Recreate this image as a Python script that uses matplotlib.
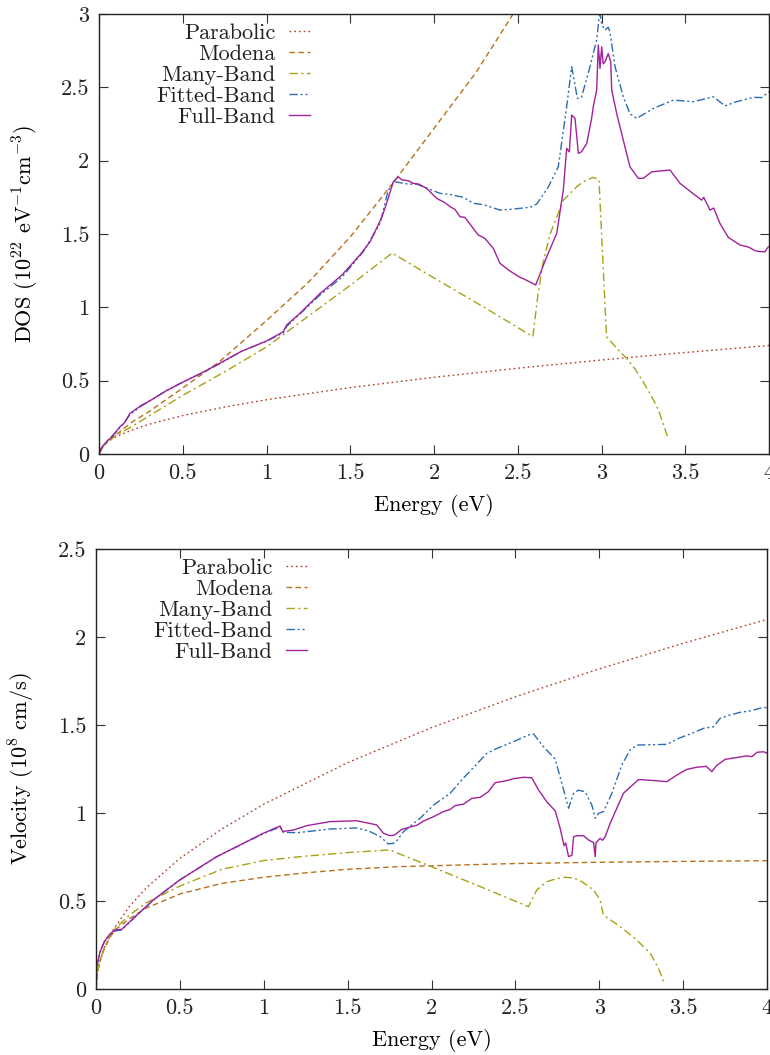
"""
DOS si viteza de grup vs. energie — comparatie intre modele de benzi
(Parabolic, Modena, Many-Band, Fitted-Band, Full-Band).
"""

import matplotlib
matplotlib.use("Agg")
import matplotlib.pyplot as plt
from matplotlib.ticker import FuncFormatter, MultipleLocator

# ---------------------------------------------------------------- date
labels = ["Parabolic", "Modena", "Many-Band", "Fitted-Band", "Full-Band"]

# grila comuna pentru curbele netede (parabolic)
E_smooth = [0, 0.01, 0.02, 0.05, 0.1, 0.2, 0.3, 0.5, 0.75, 1.0, 1.5, 2.0, 2.5, 3.0, 3.5, 4.0]

# --- DOS (10^22 eV^-1 cm^-3)
dos_par = [0, 0.037, 0.052, 0.083, 0.117, 0.165, 0.203, 0.262, 0.32, 0.37,
           0.453, 0.523, 0.585, 0.641, 0.692, 0.74]

E_mod_dos = [0, 0.02, 0.05, 0.1, 0.2, 0.3, 0.5, 0.72, 1.0, 1.25, 1.5, 1.75, 2.0, 2.25, 2.5]
dos_mod = [0, 0.05, 0.085, 0.13, 0.22, 0.29, 0.45, 0.63, 0.91, 1.17, 1.48, 1.84, 2.22, 2.6, 3.05]

E_many_dos = [0, 0.02, 0.05, 0.1, 0.2, 0.3, 0.5, 0.75, 1.0, 1.25, 1.5, 1.75, 2.0, 2.3,
              2.59, 2.62, 2.65, 2.693, 2.772, 2.85, 2.891, 2.95, 2.985, 3.03, 3.1, 3.15,
              3.2, 3.25, 3.3, 3.34, 3.4]
dos_many = [0, 0.04, 0.08, 0.125, 0.19, 0.26, 0.40, 0.56, 0.73, 0.94, 1.15, 1.37, 1.20, 1.00,
            0.80, 1.08, 1.30, 1.50, 1.73, 1.82, 1.856, 1.886, 1.87, 0.80, 0.71, 0.652,
            0.58, 0.49, 0.39, 0.30, 0.10]

E_fit_dos = [0, 0.02, 0.05, 0.08, 0.125, 0.15, 0.185, 0.25, 0.3, 0.4, 0.5, 0.6, 0.72, 0.85,
             1.0, 1.1, 1.12, 1.2, 1.32, 1.38, 1.45, 1.578, 1.678, 1.727, 1.767, 1.797,
             1.847, 1.897, 1.976, 2.036, 2.096, 2.175, 2.235, 2.294, 2.394, 2.454, 2.573,
             2.613, 2.683, 2.742, 2.792, 2.822, 2.856, 2.88, 2.931, 2.971, 2.99, 3.001,
             3.02, 3.04, 3.05, 3.081, 3.13, 3.17, 3.21, 3.309, 3.429, 3.548, 3.668, 3.737,
             3.80, 3.906, 3.956, 4.0]
dos_fit = [0, 0.05, 0.09, 0.125, 0.18, 0.21, 0.27, 0.325, 0.36, 0.43, 0.49, 0.545, 0.615,
           0.70, 0.77, 0.825, 0.87, 0.955, 1.085, 1.14, 1.205, 1.38, 1.572, 1.80, 1.856,
           1.85, 1.84, 1.84, 1.804, 1.777, 1.77, 1.75, 1.709, 1.70, 1.663, 1.668, 1.682,
           1.704, 1.822, 1.958, 2.368, 2.64, 2.424, 2.43, 2.64, 2.822, 3.02, 2.93, 2.89,
           2.91, 2.88, 2.64, 2.436, 2.32, 2.288, 2.356, 2.413, 2.402, 2.436, 2.373, 2.40,
           2.432, 2.43, 2.47]

E_full_dos = [0, 0.02, 0.05, 0.08, 0.125, 0.15, 0.185, 0.25, 0.3, 0.4, 0.5, 0.6, 0.72, 0.85,
              1.0, 1.1, 1.12, 1.2, 1.32, 1.38, 1.45, 1.56, 1.62, 1.69, 1.72, 1.757, 1.787,
              1.807, 1.847, 1.877, 1.91, 1.956, 2.016, 2.066, 2.096, 2.125, 2.155, 2.185,
              2.264, 2.304, 2.354, 2.394, 2.45, 2.513, 2.543, 2.607, 2.673, 2.733, 2.772,
              2.792, 2.808, 2.822, 2.842, 2.862, 2.88, 2.912, 2.941, 2.951, 2.971, 2.981,
              2.991, 3.001, 3.01, 3.021, 3.04, 3.055, 3.061, 3.091, 3.13, 3.17, 3.22, 3.25,
              3.30, 3.409, 3.469, 3.53, 3.598, 3.61, 3.648, 3.67, 3.707, 3.757, 3.827, 3.88,
              3.916, 3.946, 3.976, 3.996]
dos_full = [0, 0.05, 0.09, 0.12, 0.186, 0.21, 0.277, 0.33, 0.36, 0.43, 0.49, 0.545, 0.618,
            0.70, 0.77, 0.834, 0.879, 0.96, 1.095, 1.152, 1.22, 1.36, 1.45, 1.618, 1.72,
            1.856, 1.89, 1.87, 1.863, 1.845, 1.84, 1.811, 1.743, 1.713, 1.686, 1.668, 1.618,
            1.613, 1.493, 1.47, 1.402, 1.30, 1.25, 1.205, 1.19, 1.152, 1.345, 1.505, 1.80,
            2.084, 2.06, 2.311, 2.288, 2.05, 2.06, 2.118, 2.288, 2.368, 2.481, 2.788, 2.629,
            2.776, 2.66, 2.674, 2.73, 2.674, 2.481, 2.32, 2.14, 1.958, 1.879, 1.88, 1.924,
            1.936, 1.845, 1.79, 1.731, 1.75, 1.663, 1.677, 1.572, 1.477, 1.425, 1.41, 1.386,
            1.38, 1.379, 1.413]

# --- viteza (10^8 cm/s)
vel_par = [0, 0.105, 0.148, 0.235, 0.332, 0.47, 0.575, 0.742, 0.909, 1.05,
           1.286, 1.485, 1.66, 1.819, 1.964, 2.1]

E_mod_vel = [0, 0.01, 0.03, 0.05, 0.08, 0.12, 0.2, 0.3, 0.5, 0.75, 1.0, 1.25, 1.5, 1.8,
             2.5, 3.0, 3.5, 4.0]
vel_mod = [0, 0.1, 0.18, 0.23, 0.29, 0.34, 0.40, 0.46, 0.54, 0.60, 0.635, 0.66, 0.68,
           0.695, 0.713, 0.72, 0.725, 0.729]

E_many_vel = [0, 0.01, 0.03, 0.05, 0.08, 0.12, 0.2, 0.3, 0.5, 0.75, 1.0, 1.25, 1.5, 1.75,
              2.0, 2.3, 2.578, 2.628, 2.688, 2.75, 2.797, 2.85, 2.896, 2.966, 3.005, 3.025,
              3.125, 3.224, 3.304, 3.353, 3.389]
vel_many = [0, 0.1, 0.18, 0.235, 0.3, 0.35, 0.42, 0.49, 0.585, 0.68, 0.73, 0.755, 0.775,
            0.79, 0.695, 0.578, 0.468, 0.563, 0.61, 0.628, 0.635, 0.63, 0.61, 0.563, 0.506,
            0.42, 0.354, 0.278, 0.203, 0.118, 0.03]

E_fit_vel = [0, 0.004, 0.024, 0.05, 0.083, 0.113, 0.153, 0.183, 0.243, 0.342, 0.5, 0.72,
             0.998, 1.097, 1.117, 1.2, 1.395, 1.555, 1.63, 1.694, 1.743, 1.783, 1.833, 1.882,
             1.932, 2.012, 2.111, 2.18, 2.24, 2.33, 2.39, 2.488, 2.588, 2.608, 2.667, 2.737,
             2.777, 2.817, 2.847, 2.876, 2.916, 2.956, 2.976, 2.996, 3.025, 3.035, 3.075,
             3.135, 3.184, 3.224, 3.403, 3.473, 3.552, 3.622, 3.68, 3.721, 3.78, 3.84, 3.9,
             3.97, 4.0]
vel_fit = [0, 0.127, 0.21, 0.27, 0.31, 0.33, 0.335, 0.362, 0.418, 0.505, 0.62, 0.752, 0.883,
           0.92, 0.89, 0.888, 0.909, 0.915, 0.896, 0.866, 0.824, 0.83, 0.894, 0.932, 0.97,
           1.045, 1.112, 1.188, 1.248, 1.339, 1.367, 1.405, 1.447, 1.45, 1.377, 1.307, 1.169,
           1.027, 1.112, 1.13, 1.12, 1.045, 0.97, 0.998, 1.008, 1.027, 1.112, 1.273, 1.358,
           1.386, 1.39, 1.424, 1.453, 1.481, 1.49, 1.538, 1.557, 1.572, 1.58, 1.598, 1.6]

E_full_vel = [0, 0.004, 0.024, 0.05, 0.083, 0.113, 0.153, 0.183, 0.243, 0.342, 0.5, 0.72,
              0.998, 1.097, 1.113, 1.177, 1.256, 1.395, 1.555, 1.61, 1.674, 1.713, 1.753,
              1.78, 1.823, 1.872, 1.912, 1.952, 2.012, 2.071, 2.111, 2.141, 2.19, 2.24, 2.29,
              2.339, 2.379, 2.449, 2.489, 2.548, 2.598, 2.638, 2.687, 2.737, 2.767, 2.79,
              2.80, 2.817, 2.837, 2.847, 2.867, 2.906, 2.936, 2.966, 2.976, 2.98, 3.005,
              3.02, 3.035, 3.065, 3.144, 3.234, 3.303, 3.403, 3.463, 3.522, 3.582, 3.638,
              3.671, 3.70, 3.751, 3.82, 3.88, 3.91, 3.94, 3.98, 3.999]
vel_full = [0, 0.127, 0.21, 0.27, 0.312, 0.336, 0.339, 0.366, 0.42, 0.506, 0.62, 0.752,
            0.885, 0.926, 0.895, 0.903, 0.928, 0.951, 0.956, 0.945, 0.932, 0.885, 0.871,
            0.875, 0.907, 0.92, 0.93, 0.954, 0.979, 1.008, 1.02, 1.042, 1.05, 1.083, 1.089,
            1.121, 1.172, 1.184, 1.195, 1.203, 1.20, 1.131, 1.064, 1.013, 0.913, 0.814, 0.83,
            0.752, 0.76, 0.865, 0.871, 0.871, 0.847, 0.832, 0.752, 0.83, 0.856, 0.845, 0.865,
            0.941, 1.112, 1.19, 1.186, 1.178, 1.216, 1.248, 1.26, 1.265, 1.235, 1.27, 1.305,
            1.315, 1.325, 1.32, 1.345, 1.348, 1.34]

# ---------------------------------------------------------------- stil (gnuplot-like)
colors = ["#b13e27", "#b8711c", "#a9a114", "#2c6db2", "#a2219c"]
styles = [(0, (1.2, 2.2)), (0, (4, 2.5)), (0, (6, 2.5, 1.5, 2.5)),
          (0, (6, 2, 1.5, 2, 1.5, 2)), "-"]

FS = 16
plt.rcParams["font.family"] = ["cmr10", "DejaVu Serif"]
plt.rcParams["mathtext.fontset"] = "cm"
plt.rcParams["axes.formatter.use_mathtext"] = True
plt.rcParams["font.size"] = FS
plt.rcParams["text.color"] = "#222222"


def style_axes(ax, ymax, ystep):
    """Axe, tick-uri spre interior pe toate laturile, etichete %g."""
    ax.set_xlim(0, 4)
    ax.set_ylim(0, ymax)
    ax.xaxis.set_major_locator(MultipleLocator(0.5))
    ax.yaxis.set_major_locator(MultipleLocator(ystep))
    fmt = FuncFormatter(lambda v, _: f"{v:g}")
    ax.xaxis.set_major_formatter(fmt)
    ax.yaxis.set_major_formatter(fmt)
    ax.tick_params(direction="in", length=6.5, width=0.8, top=True, right=True,
                   labelsize=FS, color="#333333", labelcolor="#222222")
    ax.tick_params(axis="x", pad=7)
    ax.tick_params(axis="y", pad=7)
    for s in ax.spines.values():
        s.set_linewidth(1.0)
        s.set_color("#222222")


def draw_panel(ax, series, ylabel, ymax, ystep, ylab_x):
    for (x, y), lab, c, ls in zip(series, labels, colors, styles):
        ax.plot(x, y, color=c, linestyle=ls, linewidth=1.0, label=lab)
    style_axes(ax, ymax, ystep)
    ax.set_xlabel("Energy (eV)")
    ax.set_ylabel(ylabel)
    ax.xaxis.set_label_coords(0.5, -0.092)
    ax.yaxis.set_label_coords(ylab_x, 0.5)
    ax.legend(loc="upper left", bbox_to_anchor=(0.085, 0.978), frameon=False,
              markerfirst=False, handlelength=0.95, handletextpad=0.6,
              labelspacing=0.06, borderpad=0, borderaxespad=0, fontsize=FS)


fig = plt.figure(figsize=(7.7, 10.55), dpi=100)
ax1 = fig.add_axes([99 / 770, 601 / 1055, 670 / 770, 440 / 1055])
ax2 = fig.add_axes([96 / 770, 66 / 1055, 671 / 770, 440 / 1055])

draw_panel(ax1, [(E_smooth, dos_par), (E_mod_dos, dos_mod), (E_many_dos, dos_many),
                 (E_fit_dos, dos_fit), (E_full_dos, dos_full)],
           r"DOS (10$^{22}$ eV$^{-1}$cm$^{-3}$)", 3, 0.5, -0.086)
draw_panel(ax2, [(E_smooth, vel_par), (E_mod_vel, vel_mod), (E_many_vel, vel_many),
                 (E_fit_vel, vel_fit), (E_full_vel, vel_full)],
           r"Velocity (10$^{8}$ cm/s)", 2.5, 0.5, -0.088)

fig.savefig("out.png", dpi=100)
